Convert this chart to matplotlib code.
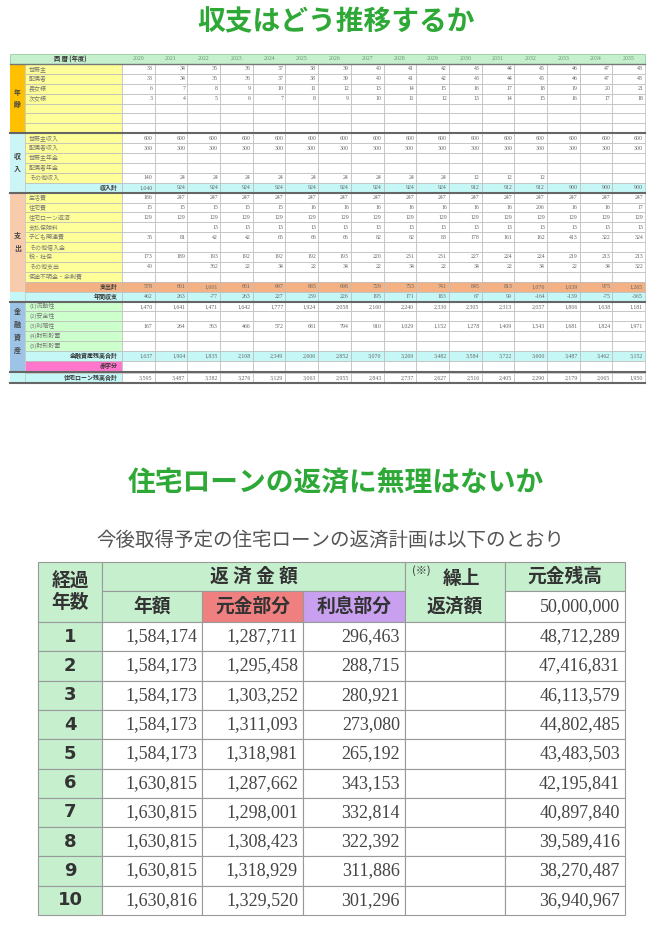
import matplotlib.pyplot as plt
from matplotlib.patches import Rectangle

JP = "Noto Sans CJK JP"
SERIF = "Liberation Serif"

# ---- top table data ----
years = [str(y) for y in range(2020, 2036)]
age_rows = [
    ("世帯主", [33, 34, 35, 36, 37, 38, 39, 40, 41, 42, 43, 44, 45, 46, 47, 48]),
    ("配偶者", [33, 34, 35, 36, 37, 38, 39, 40, 41, 42, 43, 44, 45, 46, 47, 48]),
    ("長女様", [6, 7, 8, 9, 10, 11, 12, 13, 14, 15, 16, 17, 18, 19, 20, 21]),
    ("次女様", [3, 4, 5, 6, 7, 8, 9, 10, 11, 12, 13, 14, 15, 16, 17, 18]),
    ("", []), ("", []), ("", []),
]
income_rows = [
    ("世帯主収入", [600] * 16),
    ("配偶者収入", [300] * 16),
    ("世帯主年金", []),
    ("配偶者年金", []),
    ("その他収入", [140, 24, 24, 24, 24, 24, 24, 24, 24, 24, 12, 12, 12, "", "", ""]),
]
income_total = [1040, 924, 924, 924, 924, 924, 924, 924, 924, 924, 912, 912, 912, 900, 900, 900]
expense_rows = [
    ("生活費", [186, 247, 247, 247, 247, 247, 247, 247, 247, 247, 247, 247, 247, 247, 247, 247]),
    ("住宅費", [15, 15, 15, 15, 15, 16, 16, 16, 16, 16, 16, 16, 206, 16, 16, 17]),
    ("住宅ローン返済", [129] * 16),
    ("支払保険料", ["", "", 13, 13, 13, 13, 13, 13, 13, 13, 13, 13, 13, 13, 13, 13]),
    ("子ども関連費", [35, 81, 42, 42, 65, 66, 66, 82, 82, 83, 178, 161, 162, 413, 322, 324]),
    ("その他借入金", []),
    ("税・社保", [173, 189, 193, 192, 192, 192, 193, 220, 231, 231, 227, 224, 224, 219, 213, 213]),
    ("その他支出", [40, "", 362, 22, 34, 22, 34, 22, 34, 22, 34, 22, 34, 22, 34, 322]),
    ("使途不明金・余剰費", []),
]
expense_total = [578, 661, 1001, 661, 697, 685, 698, 729, 753, 741, 845, 813, 1076, 1039, 975, 1265]
annual_balance = [462, 263, -77, 263, 227, 239, 226, 195, 171, 183, 67, 99, -164, -139, -75, -365]
asset_rows = [
    ("(1)流動性", [1470, 1641, 1471, 1642, 1777, 1924, 2058, 2160, 2240, 2330, 2305, 2313, 2057, 1806, 1638, 1181]),
    ("(2)安全性", []),
    ("(3)利殖性", [167, 264, 363, 466, 572, 681, 794, 910, 1029, 1152, 1278, 1409, 1543, 1681, 1824, 1971]),
    ("(4)財形貯蓄", []),
    ("(5)財形貯蓄", []),
]
asset_total = [1637, 1904, 1835, 2108, 2349, 2606, 2852, 3070, 3269, 3482, 3584, 3722, 3600, 3487, 3462, 3152]
loan_balance = [3595, 3487, 3382, 3276, 3129, 3063, 2955, 2843, 2737, 2627, 2516, 2405, 2290, 2179, 2065, 1950]

# ---- bottom table data ----
elapsed = [1, 2, 3, 4, 5, 6, 7, 8, 9, 10]
annual = [1584174, 1584173, 1584173, 1584173, 1584173, 1630815, 1630815, 1630815, 1630815, 1630816]
principal = [1287711, 1295458, 1303252, 1311093, 1318981, 1287662, 1298001, 1308423, 1318929, 1329520]
interest = [296463, 288715, 280921, 273080, 265192, 343153, 332814, 322392, 311886, 301296]
remaining = [48712289, 47416831, 46113579, 44802485, 43483503, 42195841, 40897840, 39589416, 38270487, 36940967]
initial_balance = 50000000

fig = plt.figure(figsize=(6.72, 9.25), dpi=100)
ax = fig.add_axes([0, 0, 1, 1])
ax.set_xlim(0, 672)
ax.set_ylim(925, 0)
ax.axis("off")

def fmt(v):
    if v == "" or v is None:
        return ""
    return f"{v:,}"

def cell(x, y, w, h, fc="white", ec="#bbbbbb", lw=0.5):
    ax.add_patch(Rectangle((x, y), w, h, facecolor=fc, edgecolor=ec, lw=lw))

GREEN = "#2ea836"
ax.text(336, 22, "収支はどう推移するか", fontfamily=JP, fontsize=20, fontweight="bold",
        color=GREEN, ha="center", va="center")

# top table geometry
X0, XS, XL, XV = 10, 25, 122, 645
cw = (XV - XL) / 16
rh = 9.9
y = 54.0

def row(label, vals, lab_fc, val_fc="white", label_right=False, tcol="#666666"):
    global y
    cell(XS, y, XL - XS, rh, fc=lab_fc)
    if label:
        if label_right:
            ax.text(XL - 4, y + rh / 2, label, fontfamily=JP, fontsize=4.3, ha="right",
                    va="center", fontweight="bold", color="#333333")
        else:
            ax.text(XS + 4, y + rh / 2, label, fontfamily=JP, fontsize=4.3, ha="left",
                    va="center", color="#777777")
    for i in range(16):
        cell(XL + i * cw, y, cw, rh, fc=val_fc)
        if i < len(vals):
            ax.text(XL + (i + 1) * cw - 2, y + rh / 2, fmt(vals[i]), fontfamily=SERIF,
                    fontsize=4.2, ha="right", va="center", color=tcol)
    y += rh

# header
ax.add_patch(Rectangle((X0, y), XV - X0, rh, facecolor="#c6efce", edgecolor="#88c890", lw=0.5))
ax.text(70, y + rh / 2, "西 暦 (年度)", fontfamily=JP, fontsize=4.5, fontweight="bold",
        ha="center", va="center", color="#333333")
for i, yr in enumerate(years):
    ax.text(XL + (i + 0.5) * cw, y + rh / 2, yr, fontfamily=SERIF, fontsize=4.2,
            ha="center", va="center", color="#6a9a6a")
y += rh
ax.plot([X0, XV], [y, y], color="#777777", lw=1.0)

def strip(y0, n, fc, label):
    ax.add_patch(Rectangle((X0, y0), XS - X0, n * rh, facecolor=fc, edgecolor="none"))
    ax.text((X0 + XS) / 2, y0 + n * rh / 2, "\n\n".join(label), fontfamily=JP, fontsize=5,
            fontweight="bold", ha="center", va="center", color="#444444", linespacing=0.9)

y0 = y
for lab, v in age_rows:
    row(lab, v, "#ffff99")
strip(y0, len(age_rows), "#ffc000", "年齢")
ax.plot([X0, XV], [y, y], color="#666666", lw=1.5)

y0 = y
for lab, v in income_rows:
    row(lab, v, "#ffff99")
row("収入計", income_total, "#c5f7f7", "#c5f7f7", label_right=True)
strip(y0, len(income_rows) + 1, "#ccf5f5", "収入")
ax.plot([X0, XV], [y, y], color="#666666", lw=1.5)

y0 = y
for lab, v in expense_rows:
    row(lab, v, "#ffff99")
row("支出計", expense_total, "#f4b183", "#f4b183", label_right=True)
strip(y0, len(expense_rows) + 1, "#f8cbad", "支出")
ax.add_patch(Rectangle((X0, y), XS - X0, rh, facecolor="#c5f7f7", edgecolor="none"))
row("年間収支", annual_balance, "#c5f7f7", "#c5f7f7", label_right=True)
ax.plot([X0, XV], [y, y], color="#666666", lw=1.5)

y0 = y
for lab, v in asset_rows:
    row(lab, v, "#ccffcc")
row("金融資産残高合計", asset_total, "#c5f7f7", "#c5f7f7", label_right=True)
strip(y0, len(asset_rows) + 1, "#9dc3e6", "金融資産")
ax.add_patch(Rectangle((X0, y), XS - X0, rh, facecolor="#9dc3e6", edgecolor="none"))
row("赤字分", [], "#ff77cc", label_right=True)
ax.plot([X0, XV], [y + 1, y + 1], color="#666666", lw=1.5)
y += 2
ax.add_patch(Rectangle((X0, y), XS - X0, rh, facecolor="#c5f7f7", edgecolor="none"))
row("住宅ローン残高合計", loan_balance, "#c5f7f7", label_right=True)
ax.plot([X0, XV], [y, y], color="#666666", lw=1.5)

# ---- bottom section ----
ax.text(336, 484, "住宅ローンの返済に無理はないか", fontfamily=JP, fontsize=20,
        fontweight="bold", color=GREEN, ha="center", va="center")
ax.text(330, 540, "今後取得予定の住宅ローンの返済計画は以下のとおり", fontfamily=JP,
        fontsize=14, color="#555555", ha="center", va="center")

cols = [38, 102, 202, 303, 405, 505, 625]
LG = "#c6efce"
h1, h2, drh = 562, 591, 29.3
hdr = dict(fontfamily=JP, fontsize=13.5, fontweight="bold", ha="center", va="center",
           color="#333333")
ec = "#999999"
cell(cols[0], h1, cols[1] - cols[0], 60, LG, ec, 0.8)
ax.text((cols[0] + cols[1]) / 2, h1 + 30, "経過\n年数", linespacing=1.2, **hdr)
cell(cols[1], h1, cols[4] - cols[1], h2 - h1, LG, ec, 0.8)
ax.text((cols[1] + cols[4]) / 2, (h1 + h2) / 2, "返 済 金 額", **hdr)
cell(cols[1], h2, cols[2] - cols[1], 31, LG, ec, 0.8)
ax.text((cols[1] + cols[2]) / 2, h2 + 15.5, "年額", **hdr)
cell(cols[2], h2, cols[3] - cols[2], 31, "#f07f7f", ec, 0.8)
ax.text((cols[2] + cols[3]) / 2, h2 + 15.5, "元金部分", **hdr)
cell(cols[3], h2, cols[4] - cols[3], 31, "#c9a0f0", ec, 0.8)
ax.text((cols[3] + cols[4]) / 2, h2 + 15.5, "利息部分", **hdr)
cell(cols[4], h1, cols[5] - cols[4], 60, LG, ec, 0.8)
ax.text((cols[4] + cols[5]) / 2 + 6, h1 + 16, "繰上", **hdr)
ax.text(cols[4] + 16, h1 + 9, "(※)", fontfamily=JP, fontsize=8, ha="center", va="center", color="#333333")
ax.text((cols[4] + cols[5]) / 2, h1 + 44, "返済額", **hdr)
cell(cols[5], h1, cols[6] - cols[5], h2 - h1, LG, ec, 0.8)
ax.text((cols[5] + cols[6]) / 2, (h1 + h2) / 2, "元金残高", **hdr)
cell(cols[5], h2, cols[6] - cols[5], 31, "white", ec, 0.8)
ax.text(cols[6] - 5, h2 + 15.5, fmt(initial_balance), fontfamily=SERIF, fontsize=13,
        ha="right", va="center", color="#444444")

num = dict(fontfamily=SERIF, fontsize=13, ha="right", va="center", color="#444444")
ytop = h2 + 31
for i in range(len(elapsed)):
    yy = ytop + i * drh
    cell(cols[0], yy, cols[1] - cols[0], drh, LG, ec, 0.8)
    ax.text((cols[0] + cols[1]) / 2, yy + drh / 2, str(elapsed[i]), fontfamily="DejaVu Sans",
            fontsize=13, fontweight="bold", ha="center", va="center", color="#333333")
    for j, vals in enumerate([annual, principal, interest]):
        cell(cols[j + 1], yy, cols[j + 2] - cols[j + 1], drh, "white", ec, 0.8)
        ax.text(cols[j + 2] - 5, yy + drh / 2, fmt(vals[i]), **num)
    cell(cols[4], yy, cols[5] - cols[4], drh, "white", ec, 0.8)
    cell(cols[5], yy, cols[6] - cols[5], drh, "white", ec, 0.8)
    ax.text(cols[6] - 5, yy + drh / 2, fmt(remaining[i]), **num)

fig.savefig("out.png", dpi=100)
